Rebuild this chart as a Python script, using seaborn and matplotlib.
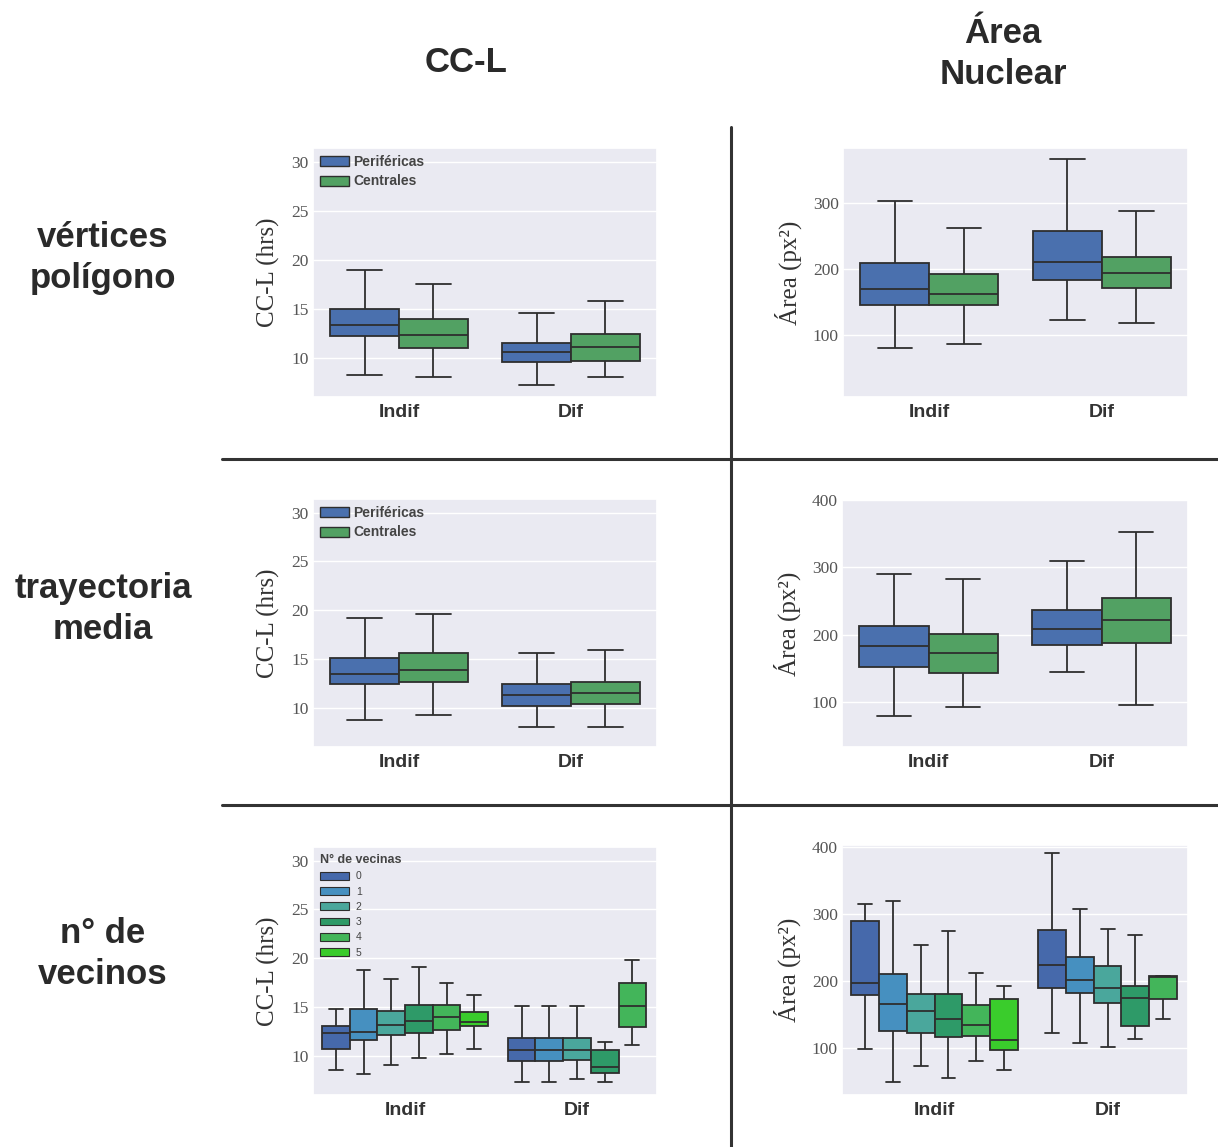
import pandas as pd
import seaborn as sns
import matplotlib.pyplot as plt
from matplotlib.patches import Patch
from matplotlib.lines import Line2D

GROUPS = ["Indif", "Dif"]
TIPOS = ["Periféricas", "Centrales"]
VECINAS = ["0", "1", "2", "3", "4", "5"]

# each box: lower whisker, Q1, median, Q3, upper whisker  (Indif, Dif)
ccl_vert_perif = [[8.2, 12.2, 13.3, 15.0, 19.0], [7.2, 9.6, 10.6, 11.5, 14.6]]
ccl_vert_centr = [[8.0, 11.0, 12.3, 14.0, 17.5], [8.0, 9.7, 11.1, 12.4, 15.8]]
area_vert_perif = [[81, 145, 170, 209, 303], [123, 183, 211, 258, 367]]
area_vert_centr = [[87, 145, 163, 193, 263], [119, 171, 194, 219, 289]]

ccl_tray_perif = [[8.8, 12.5, 13.5, 15.1, 19.2], [8.0, 10.2, 11.3, 12.5, 15.6]]
ccl_tray_centr = [[9.25, 12.7, 13.9, 15.6, 19.6], [8.0, 10.4, 11.5, 12.7, 15.9]]
area_tray_perif = [[79, 152, 183, 213, 290], [144, 185, 209, 236, 309]]
area_tray_centr = [[92, 143, 172, 201, 282], [96, 187, 222, 254, 352]]

# n° de vecinas 0..5 (Indif) and 0..4 (Dif)
ccl_vec_indif = [[8.6, 10.7, 12.4, 13.05, 14.8], [8.1, 11.6, 12.5, 14.8, 18.8],
                 [9.1, 12.1, 13.2, 14.6, 17.9], [9.8, 12.3, 13.6, 15.25, 19.1],
                 [10.2, 12.7, 14.0, 15.25, 17.5], [10.75, 13.1, 13.5, 14.55, 16.2]]
ccl_vec_dif = [[7.3, 9.5, 10.6, 11.8, 15.1], [7.3, 9.5, 10.6, 11.8, 15.1],
               [7.6, 9.6, 10.6, 11.8, 15.1], [7.3, 8.3, 8.9, 10.6, 11.4],
               [11.1, 12.95, 15.1, 17.45, 19.8]]
area_vec_indif = [[98, 179, 197, 290, 315], [50, 126, 166, 211, 320],
                  [73, 122, 156, 181, 254], [56, 116, 143, 180, 274],
                  [81, 118, 134, 165, 212], [68, 97, 112, 173, 192]]
area_vec_dif = [[123, 190, 224, 276, 391], [107, 182, 201, 236, 307],
                [102, 167, 189, 222, 278], [113, 133, 175, 192, 269],
                [144, 173, 206, 207, 207.5]]

PAL_TIPO = ["#4a70ae", "#52a163"]
PAL_VEC = ["#4669ab", "#4690c0", "#4aa79c", "#2e9a68", "#43b55a", "#3acc2c"]
LINE = "#2e2e2e"
W, H = 1218, 1147

sns.set_theme(style="darkgrid")


def frame(rows):
    recs = [(g, h, v) for g, h, five in rows for v in five]
    return pd.DataFrame(recs, columns=["grupo", "nivel", "valor"])


def add_ax(fig, l, r, t, b):
    return fig.add_axes([l / W, 1 - b / H, (r - l) / W, (b - t) / H])


def box(ax, df, hue_order, pal, width):
    sns.boxplot(data=df, x="grupo", y="valor", hue="nivel", order=GROUPS,
                hue_order=hue_order, palette=pal, saturation=1, width=width,
                gap=0, whis=(0, 100), linecolor=LINE, linewidth=1.3,
                legend=False, ax=ax)


def style(ax, ylim, yticks, ylabel, xlim=(-0.5, 1.5)):
    ax.set_xlim(*xlim)
    ax.set_ylim(*ylim)
    ax.set_yticks(yticks)
    ax.set_xlabel("")
    ax.set_ylabel(ylabel, family="Liberation Serif", fontsize=18, color="#333333", labelpad=8)
    ax.xaxis.grid(False)
    ax.tick_params(axis="y", length=0, pad=3)
    ax.tick_params(axis="x", length=0, pad=5)
    for lab in ax.get_yticklabels():
        lab.set_family("Liberation Serif")
        lab.set_fontsize(12.5)
        lab.set_color("#555555")
    for lab in ax.get_xticklabels():
        lab.set_family("Liberation Sans")
        lab.set_fontweight("bold")
        lab.set_fontsize(14)
        lab.set_color("#333333")


def two_type(ax, perif, centr, ylim, yticks, ylabel, legend=False):
    rows = []
    for i, g in enumerate(GROUPS):
        rows.append((g, TIPOS[0], perif[i]))
        rows.append((g, TIPOS[1], centr[i]))
    box(ax, frame(rows), TIPOS, PAL_TIPO, 0.8)
    style(ax, ylim, yticks, ylabel)
    if legend:
        handles = [Patch(facecolor=c, edgecolor=LINE, linewidth=1) for c in PAL_TIPO]
        leg = ax.legend(handles, TIPOS, loc="upper left", frameon=False,
                        prop={"family": "Liberation Sans", "weight": "bold", "size": 10},
                        handlelength=2.1, handleheight=0.75, handletextpad=0.3,
                        labelspacing=0.4, borderaxespad=0.3, borderpad=0.2)
        for t in leg.get_texts():
            t.set_color("#444444")


def vecinos(ax, indif, dif, ylim, yticks, ylabel, legend=False):
    rows_i = [("Indif", VECINAS[k], v) for k, v in enumerate(indif)]
    rows_d = [("Dif", VECINAS[k], v) for k, v in enumerate(dif)]
    box(ax, frame(rows_i), VECINAS, PAL_VEC, 0.965)
    box(ax, frame(rows_d), VECINAS[:len(dif)], PAL_VEC[:len(dif)], 0.805)
    style(ax, ylim, yticks, ylabel, xlim=(-0.535, 1.465))
    if legend:
        handles = [Patch(facecolor=c, edgecolor=LINE, linewidth=0.8) for c in PAL_VEC]
        leg = ax.legend(handles, VECINAS, loc="upper left", frameon=False,
                        title="N° de vecinas",
                        title_fontproperties={"family": "Liberation Sans", "weight": "bold", "size": 9},
                        prop={"family": "Liberation Sans", "size": 7.5},
                        handlelength=2.8, handleheight=0.8, handletextpad=0.6,
                        labelspacing=0.5, borderaxespad=0.5, borderpad=0.2)
        leg._legend_box.align = "left"
        leg.get_title().set_color("#444444")
        for t in leg.get_texts():
            t.set_color("#444444")


fig = plt.figure(figsize=(W / 100, H / 100), dpi=100)

ccl_ticks = [10, 15, 20, 25, 30]
ccl_lim = (6.0, 31.4)

ax = add_ax(fig, 313, 657, 148, 397)
two_type(ax, ccl_vert_perif, ccl_vert_centr, ccl_lim, ccl_ticks, "CC-L (hrs)", legend=True)
ax = add_ax(fig, 843, 1188, 148, 397)
two_type(ax, area_vert_perif, area_vert_centr, (6, 384), [100, 200, 300], "Área (px²)")

ax = add_ax(fig, 313, 657, 499, 747)
two_type(ax, ccl_tray_perif, ccl_tray_centr, ccl_lim, ccl_ticks, "CC-L (hrs)", legend=True)
ax = add_ax(fig, 842, 1188, 500, 747)
two_type(ax, area_tray_perif, area_tray_centr, (33, 400), [100, 200, 300, 400], "Área (px²)")

ax = add_ax(fig, 313, 657, 847, 1095)
vecinos(ax, ccl_vec_indif, ccl_vec_dif, ccl_lim, ccl_ticks, "CC-L (hrs)", legend=True)
ax = add_ax(fig, 842, 1188, 845, 1095)
vecinos(ax, area_vec_indif, area_vec_dif, (30, 403), [100, 200, 300, 400], "Área (px²)")

# headers
head = {"family": "Liberation Sans", "weight": "bold", "size": 25, "color": "#2a2a2a",
        "ha": "center", "va": "center", "linespacing": 1.32}
fig.text(466 / W, 1 - 62 / H, "CC-L", **head)
fig.text(1003 / W, 1 - 54 / H, "Área\nNuclear", **head)
fig.text(103 / W, 1 - 258 / H, "vértices\npolígono", **head)
fig.text(103 / W, 1 - 609 / H, "trayectoria\nmedia", **head)
fig.text(103 / W, 1 - 954 / H, "n° de\nvecinos", **head)

# divider lines
for xs, ys in [([731, 731], [127, 1147]), ([222, 1218], [459, 459]), ([222, 1218], [805, 805])]:
    fig.add_artist(Line2D([x / W for x in xs], [1 - y / H for y in ys],
                          transform=fig.transFigure, color="#333333", linewidth=2.2))

fig.savefig("out.png", dpi=100, facecolor="white")
